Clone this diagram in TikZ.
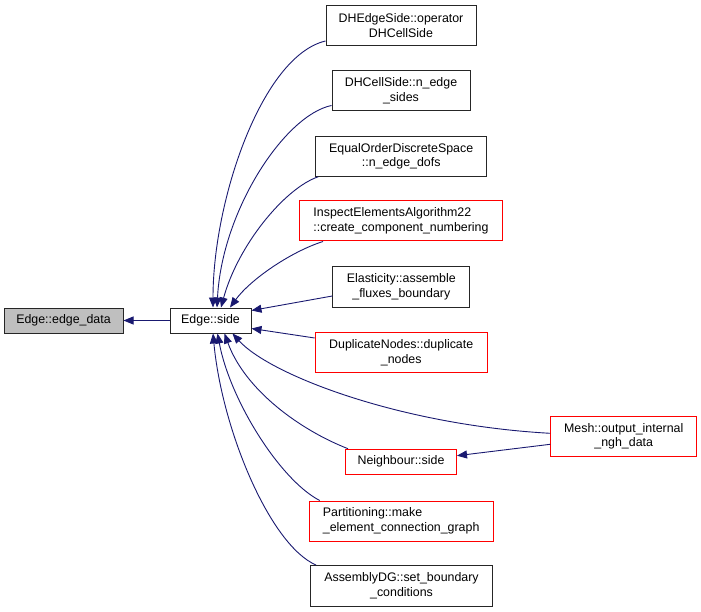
\documentclass[tikz,border=0pt]{standalone}
\usepackage{fontspec}
\setmainfont{Liberation Sans}
\usetikzlibrary{arrows.meta}
\definecolor{navy}{HTML}{191970}
\definecolor{boxred}{HTML}{FF0000}
\definecolor{greyfill}{HTML}{BFBFBF}
\begin{document}
\begin{tikzpicture}[x=1pt,y=-1pt,
  box/.style={draw=black!85, line width=1pt, fill=white, inner sep=2pt, align=center,
    font=\fontsize{12.4}{14.8}\selectfont},
  redbox/.style={box, draw=boxred},
  arr/.style={draw=navy, line width=0.9pt, -{Triangle[length=10pt,width=8pt]}}]
\useasboundingbox (0,0) rectangle (701,612);

\node[box, fill=greyfill, minimum width=119pt, minimum height=25pt] (edgedata) at (63.5,320.5) {Edge::edge\_data};
\node[box, minimum width=81pt, minimum height=25pt] (side) at (210.5,320.5) {Edge::side};

\node[box, minimum width=150pt, minimum height=40pt] (dhedge) at (401,25.5) {DHEdgeSide::operator\\DHCellSide};
\node[box, minimum width=138pt, minimum height=40pt] (dhcell) at (401,91) {DHCellSide::n\_edge\\\_sides};
\node[box, minimum width=171pt, minimum height=40pt] (eqorder) at (401.2,156.3) {EqualOrderDiscreteSpace\\::n\_edge\_dofs};
\node[redbox, align=left, minimum width=203pt, minimum height=40pt] (inspect) at (401,221) {InspectElementsAlgorithm22\\::create\_component\_numbering};
\node[box, minimum width=137pt, minimum height=40pt] (elast) at (401.3,287) {Elasticity::assemble\\\_fluxes\_boundary};
\node[redbox, minimum width=172pt, minimum height=40pt] (dup) at (401.2,352.5) {DuplicateNodes::duplicate\\\_nodes};
\node[redbox, minimum width=146pt, minimum height=40pt] (mesh) at (623.7,436.3) {Mesh::output\_internal\\\_ngh\_data};
\node[redbox, minimum width=111pt, minimum height=25pt] (neigh) at (401,461.7) {Neighbour::side};
\node[redbox, align=left, minimum width=184pt, minimum height=40pt] (part) at (401.2,521) {Partitioning::make\\\_element\_connection\_graph};
\node[box, minimum width=182pt, minimum height=41pt] (asm) at (401.5,586) {AssemblyDG::set\_boundary\\\_conditions};

% edges
\draw[arr] (side.west) -- (edgedata.east);

\draw[arr] ([yshift=5pt]dhedge.south west) .. controls (262,56) and (213,200) .. ([xshift=2.5pt]side.north);
\draw[arr] ([yshift=6pt]dhcell.south west) .. controls (285,115) and (222,210) .. ([xshift=6.5pt]side.north);
\draw[arr] ([xshift=3pt]eqorder.south west) .. controls (285,188) and (238,245) .. ([xshift=10.5pt]side.north);
\draw[arr] ([xshift=24pt]inspect.south west) .. controls (290,252) and (250,280) .. ([xshift=19.5pt]side.north);
\draw[arr] ([yshift=-9pt]elast.west) -- ([yshift=10pt]side.east);
\draw[arr] ([yshift=-6pt]dup.north west) -- ([yshift=-8pt]side.east);
\draw[arr] ([yshift=3pt]mesh.west) .. controls (400,425) and (270,375) .. ([xshift=22pt]side.south);
\draw[arr] ([xshift=3pt]neigh.north west) .. controls (300,430) and (245,390) .. ([xshift=14pt]side.south);
\draw[arr] ([xshift=11pt]part.north west) .. controls (280,480) and (230,400) .. ([xshift=7pt]side.south);
\draw[arr] ([xshift=6pt]asm.north west) .. controls (270,545) and (222,430) .. ([xshift=2.5pt]side.south);
\draw[arr] ([yshift=-8pt]mesh.west) -- ([yshift=6pt]neigh.east);
\end{tikzpicture}
\end{document}
